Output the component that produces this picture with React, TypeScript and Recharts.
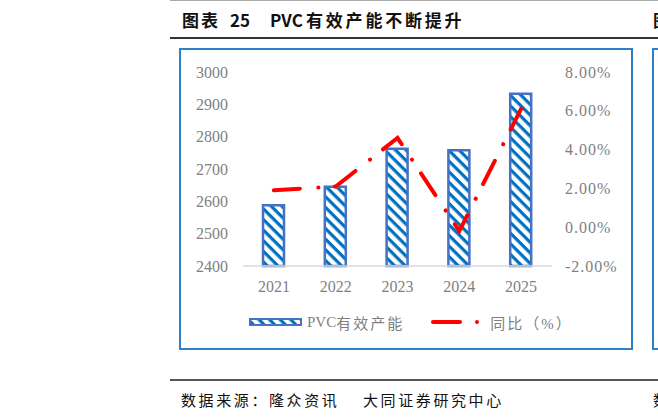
import { Bar, ComposedChart, Legend, Line, XAxis, YAxis } from 'recharts';

const years = ['2021', '2022', '2023', '2024', '2025'];
const capacity = [2588, 2645, 2763, 2758, 2933];
const yoy = [1.9, 2.1, 4.6, -0.2, 6.1];
const leftTicks = [2400, 2500, 2600, 2700, 2800, 2900, 3000];
const rightTicks = [-2, 0, 2, 4, 6, 8];

const data = years.map((year, i) => ({ year, capacity: capacity[i], yoy: yoy[i] }));

const numFont = '"Liberation Serif", "Noto Sans CJK SC", serif';
const cjkFont = '"Noto Sans CJK SC", sans-serif';
const grey = '#7f7f7f';

const tickStyle = { fontSize: 16, fill: grey, fontFamily: numFont };

const renderLegend = () => (
  <div
    style={{
      display: 'flex',
      alignItems: 'center',
      height: 20,
      fontSize: 15,
      color: grey,
      fontFamily: numFont,
      whiteSpace: 'nowrap',
    }}
  >
    <svg width={54} height={9}>
      <rect x={1} y={1} width={51} height={6} fill="url(#hatch)" stroke="#4472C4" strokeWidth={2} />
    </svg>
    <span style={{ marginLeft: 4 }}>PVC</span>
    <span style={{ letterSpacing: 2 }}>有效产能</span>
    <svg width={50} height={8} style={{ marginLeft: 27 }}>
      <line x1={2} y1={4} x2={29} y2={4} stroke="#ff0000" strokeWidth={4} strokeLinecap="round" />
      <circle cx={46} cy={4} r={2} fill="#ff0000" />
    </svg>
    <span style={{ marginLeft: 9, letterSpacing: 2 }}>同比（%）</span>
  </div>
);

export default function App() {
  return (
    <div
      style={{
        position: 'absolute',
        left: 0,
        top: 0,
        width: 658,
        height: 420,
        overflow: 'hidden',
        background: '#fff',
      }}
    >
      {/* header */}
      <div style={{ position: 'absolute', left: 170, top: 0, width: 488, height: 1, background: '#aaa' }} />
      <div style={{ position: 'absolute', left: 182, top: 9, fontFamily: cjkFont, fontWeight: 700, fontSize: 17, letterSpacing: 2, color: '#111', lineHeight: '22px', whiteSpace: 'nowrap' }}>
        图表
      </div>
      <div style={{ position: 'absolute', left: 230, top: 9, fontFamily: cjkFont, fontWeight: 700, fontSize: 17, color: '#111', lineHeight: '22px' }}>
        25
      </div>
      <div style={{ position: 'absolute', left: 270, top: 9, fontFamily: cjkFont, fontWeight: 700, fontSize: 17, color: '#111', lineHeight: '22px' }}>
        PVC
      </div>
      <div style={{ position: 'absolute', left: 306, top: 9, fontFamily: cjkFont, fontWeight: 700, fontSize: 17, letterSpacing: 2.8, color: '#111', lineHeight: '22px', whiteSpace: 'nowrap' }}>
        有效产能不断提升
      </div>
      <div style={{ position: 'absolute', left: 653, top: 9, fontFamily: cjkFont, fontWeight: 700, fontSize: 17, color: '#111', lineHeight: '22px' }}>
        图
      </div>
      <div style={{ position: 'absolute', left: 170, top: 37, width: 488, height: 2, background: '#333' }} />

      {/* chart frames */}
      <div style={{ position: 'absolute', left: 179, top: 48, width: 450, height: 298, border: '2px solid #2e7fc8' }} />
      <div style={{ position: 'absolute', left: 652, top: 48, width: 40, height: 298, border: '2px solid #2e7fc8' }} />

      <div style={{ position: 'absolute', left: 180, top: 49 }}>
        <ComposedChart
          width={452}
          height={300}
          data={data}
          margin={{ top: 23, left: 13, right: 10, bottom: 33 }}
          barCategoryGap={0}
        >
          <defs>
            <pattern id="hatch" width={7.5} height={7.5} patternUnits="userSpaceOnUse" patternTransform="rotate(45)">
              <rect width={7.5} height={7.5} fill="#ffffff" />
              <rect width={7.5} height={3.2} fill="#0070c0" />
            </pattern>
          </defs>
          <XAxis
            dataKey="year"
            axisLine={{ stroke: '#d9d9d9', strokeWidth: 1.5 }}
            tickLine={false}
            tickSize={0}
            tickMargin={15}
            height={30}
            tick={tickStyle}
          />
          <YAxis
            yAxisId="left"
            domain={[2400, 3000]}
            ticks={leftTicks}
            axisLine={false}
            tickLine={false}
            tickSize={0}
            tickMargin={15}
            width={50}
            tick={tickStyle}
          />
          <YAxis
            yAxisId="right"
            orientation="right"
            domain={[-2, 8]}
            ticks={rightTicks}
            axisLine={false}
            tickLine={false}
            tickSize={0}
            tickMargin={13}
            width={70}
            tick={{ ...tickStyle, textAnchor: 'start', letterSpacing: 1 }}
            tickFormatter={(v: number) => `${v.toFixed(2)}%`}
          />
          <Legend content={renderLegend} wrapperStyle={{ top: 263, left: 69, width: 'auto' }} />
          <Bar
            yAxisId="left"
            dataKey="capacity"
            barSize={21}
            fill="url(#hatch)"
            stroke="#4472c4"
            strokeWidth={2.5}
            isAnimationActive={false}
          />
          <Line
            yAxisId="right"
            dataKey="yoy"
            type="linear"
            stroke="#ff0000"
            strokeWidth={4}
            strokeDasharray="26 18.5 0.1 16.4"
            strokeLinecap="round"
            dot={false}
            activeDot={false}
            isAnimationActive={false}
          />
        </ComposedChart>
      </div>

      {/* footer */}
      <div style={{ position: 'absolute', left: 170, top: 379, width: 488, height: 2, background: '#555' }} />
      <div style={{ position: 'absolute', left: 181, top: 390, fontFamily: cjkFont, fontSize: 15, letterSpacing: 2.6, color: '#111', lineHeight: '20px', whiteSpace: 'nowrap' }}>
        数据来源：隆众资讯
      </div>
      <div style={{ position: 'absolute', left: 363, top: 390, fontFamily: cjkFont, fontSize: 15, letterSpacing: 2.6, color: '#111', lineHeight: '20px', whiteSpace: 'nowrap' }}>
        大同证券研究中心
      </div>
      <div style={{ position: 'absolute', left: 653, top: 390, fontFamily: cjkFont, fontSize: 15, color: '#111', lineHeight: '20px' }}>
        数
      </div>
    </div>
  );
}
